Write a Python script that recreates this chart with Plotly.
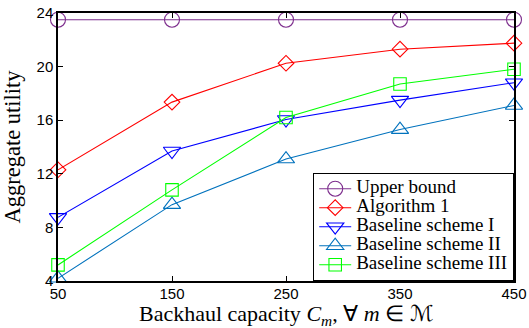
import plotly.graph_objects as go

capacity = [50, 150, 250, 350, 450]
upper_bound = [23.5, 23.5, 23.5, 23.5, 23.5]
algorithm1 = [12.3, 17.35, 20.25, 21.3, 21.75]
baseline1 = [8.75, 13.7, 16.05, 17.5, 18.8]
baseline2 = [4.2, 9.7, 13.1, 15.3, 17.1]
baseline3 = [5.2, 10.8, 16.2, 18.7, 19.8]
series_names = ["Upper bound", "Algorithm 1", "Baseline scheme I",
                "Baseline scheme II", "Baseline scheme III"]
y_ticks = [4, 8, 12, 16, 20, 24]
x_title = "Backhaul capacity <i>C</i><sub><i>m</i></sub>, ∀ <i>m</i> ∈ ℳ"
y_title = "Aggregate utility"

styles = [
    ("#7E2F8E", "circle-open", 15),
    ("#FF0000", "diamond-open", 12),
    ("#0000FF", "triangle-down-open", 15),
    ("#0072BD", "triangle-up-open", 15),
    ("#00FF00", "square-open", 12.5),
]
values = [upper_bound, algorithm1, baseline1, baseline2, baseline3]

SERIF = "Liberation Serif, Times New Roman, serif"
SANS = "Liberation Sans, Arial, Helvetica, sans-serif"

fig = go.Figure()
for name, vals, (color, sym, size) in zip(series_names, values, styles):
    fig.add_trace(go.Scatter(
        x=capacity, y=vals, mode="lines+markers",
        name='<span style="font-size:19px">' + name + '</span>',
        line=dict(color=color, width=1.1),
        marker=dict(symbol=sym, size=size, color=color, line=dict(width=1.1, color=color)),
        cliponaxis=False,
    ))

axis_common = dict(
    showline=True, linecolor="black", linewidth=1.5, mirror="ticks",
    ticks="inside", ticklen=5, tickcolor="black", tickwidth=1,
    showgrid=False, zeroline=False, automargin=False,
    ticklabeloverflow="allow",
    tickfont=dict(family=SANS, size=15, color="black"),
)

fig.update_layout(
    width=529, height=328,
    margin=dict(l=58, r=15, t=13, b=47),
    paper_bgcolor="white", plot_bgcolor="white",
    showlegend=True,
    legend=dict(
        x=1, y=0, xanchor="right", yanchor="bottom",
        bgcolor="white", bordercolor="black", borderwidth=1.2,
        font=dict(family=SERIF, size=11.5, color="black"),
        tracegroupgap=0, itemwidth=32,
    ),
    xaxis=dict(
        range=[50, 450], tickvals=capacity, ticktext=[str(c) for c in capacity],
        ticklabelstandoff=-2,
        **axis_common,
    ),
    yaxis=dict(
        range=[4, 24], tickvals=y_ticks, ticktext=[str(t) for t in y_ticks],
        title=dict(text=y_title, font=dict(family=SERIF, size=22.5, color="black")),
        **axis_common,
    ),
    annotations=[dict(
        text=x_title, xref="paper", yref="paper", x=0.5, y=0,
        xanchor="center", yanchor="middle", yshift=-34, showarrow=False,
        font=dict(family=SERIF, size=22, color="black"),
    )],
)

fig.write_html("out.html", post_script="document.body.style.margin='0';",
               config={"displayModeBar": False})
